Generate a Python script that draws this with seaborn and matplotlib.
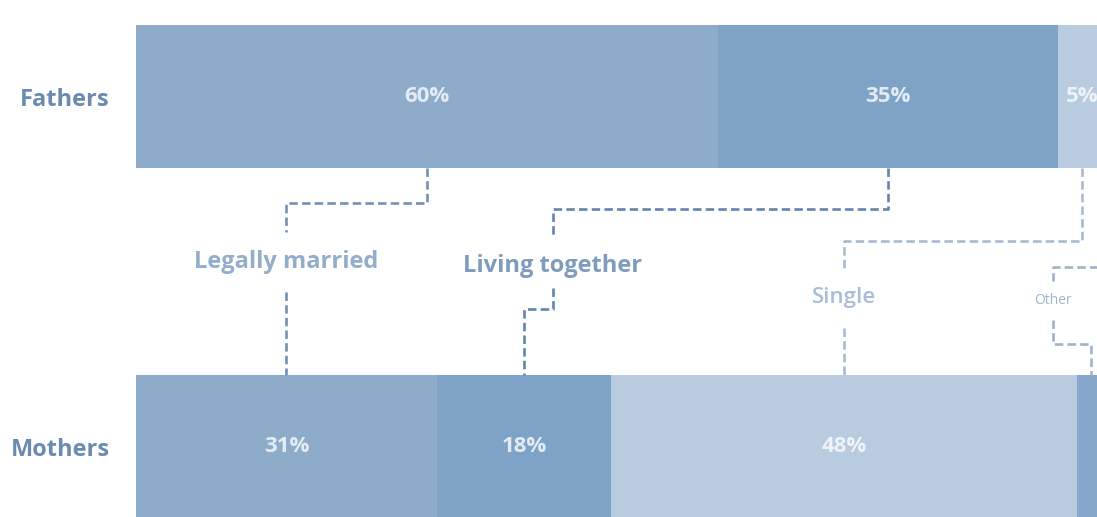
import matplotlib
matplotlib.use("Agg")
import matplotlib.pyplot as plt
import seaborn as sns
import pandas as pd
import numpy as np

# ---- data ----
groups = ["Fathers", "Mothers"]
statuses = ["Legally married", "Living together", "Single", "Other"]
fathers = [60, 35, 5, 0]
mothers = [31, 18, 48, 3]

# ---- style ----
status_colors = ["#8eacca", "#7fa3c7", "#b9cbdf", "#86a7cb"]
label_colors = ["#93adca", "#7f9cbe", "#a9bdd5", "#9fb4ce"]
line_colors = ["#7390b4", "#6284ad", "#a8bad0", "#9fb2cb"]
pct_colors = ["#e3ebf4", "#e3ebf4", "#eef3f9", "#e3ebf4"]

sns.set_theme(style="white")
plt.rcParams['font.family'] = ['Open Sans', 'DejaVu Sans']

W, H = 1097, 517
fig = plt.figure(figsize=(W / 100, H / 100), dpi=100)
ax = fig.add_axes([136 / W, 0, 970 / W, 1])

rows = []
for g, vals in zip(groups, [fathers, mothers]):
    cum = np.cumsum(vals)
    for s, c in zip(statuses, cum):
        rows.append({"group": g, "status": s, "cum": c})
df = pd.DataFrame(rows)

sns.barplot(data=df, x="cum", y="group", hue="status",
            hue_order=statuses[::-1], order=groups,
            palette=dict(zip(statuses, status_colors)),
            dodge=False, width=0.409, saturation=1, legend=False, ax=ax,
            linewidth=0, edgecolor="none")

ax.set_xlim(0, 100)
# pixel -> data helper for layout of annotation elbows
def yd(py):
    return (py - 96.5) / 350.0

ax.set_ylim(yd(H), yd(0))
for sp in ax.spines.values():
    sp.set_visible(False)
ax.set_xticks([])
ax.set_xlabel("")
ax.set_ylabel("")
ax.tick_params(axis="y", length=0, pad=19, labelsize=17, labelcolor="#6b8bb1")
for t in ax.get_yticklabels():
    t.set_fontweight("bold")

# percentage labels inside the bars
for i, vals in enumerate([fathers, mothers]):
    cum = np.cumsum(vals)
    for k, v in enumerate(vals):
        if v >= 5:
            ax.text(cum[k] - v / 2, i, f"{v}%", ha="center", va="center",
                    fontsize=16, fontweight="bold", color=pct_colors[k])

fmid = np.cumsum(fathers) - np.array(fathers) / 2
mmid = np.cumsum(mothers) - np.array(mothers) / 2
bar_half = 0.409 / 2

def xd(px):
    return (px - 136) / 9.7

# layout per status: label x, upper elbow y, label y, line-stop above label,
# line-start below label, lower elbow y, font size, weight
layout = [
    dict(lx=mmid[0], h1=203, ly=262, a=232, b=292, h2=None, fs=17, fw="bold"),
    dict(lx=xd(553), h1=209, ly=266, a=238, b=288, h2=309, fs=17, fw="bold"),
    dict(lx=mmid[2], h1=241, ly=297, a=268, b=328, h2=None, fs=16, fw="semibold"),
    dict(lx=xd(1053), h1=267, ly=301, a=285, b=320, h2=344, fs=10, fw="normal"),
]

top_y = 0 + bar_half
bot_y = 1 - bar_half
for k, s in enumerate(statuses):
    L = layout[k]
    xt = fmid[k] if fathers[k] > 0 else 100.6
    xs_up = [xt, xt, L["lx"], L["lx"]]
    ys_up = [top_y, yd(L["h1"]), yd(L["h1"]), yd(L["a"])]
    ax.plot(xs_up, ys_up, color=line_colors[k], lw=1.9, dashes=(3.2, 1.6),
            clip_on=False)
    if L["h2"] is None:
        xs_dn = [L["lx"], mmid[k]]
        ys_dn = [yd(L["b"]), bot_y]
    else:
        xs_dn = [L["lx"], L["lx"], mmid[k], mmid[k]]
        ys_dn = [yd(L["b"]), yd(L["h2"]), yd(L["h2"]), bot_y]
    ax.plot(xs_dn, ys_dn, color=line_colors[k], lw=1.9, dashes=(3.2, 1.6),
            clip_on=False)
    ax.text(L["lx"], yd(L["ly"]), s, ha="center", va="center",
            fontsize=L["fs"], fontweight=L["fw"], color=label_colors[k])

fig.savefig("out.png", dpi=100)
